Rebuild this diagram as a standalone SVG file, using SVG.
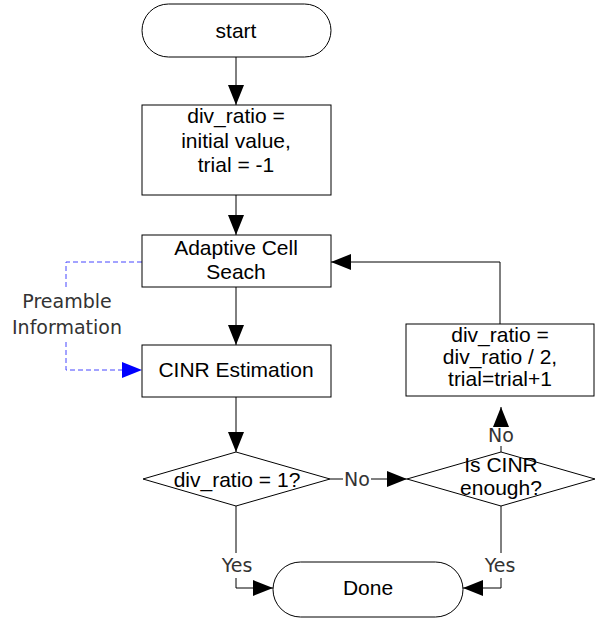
<svg xmlns="http://www.w3.org/2000/svg" width="612" height="621" viewBox="0 0 612 621">
<style>
.shape{fill:#fff;stroke:#000;stroke-width:1}
.t{font-family:"Liberation Sans",Arial,sans-serif;font-size:21px;fill:#000;text-anchor:middle}
.lbl{font-family:"DejaVu Sans",sans-serif;font-size:19px;fill:#333;text-anchor:middle}
.c{fill:none;stroke:#000;stroke-width:1}
.d{fill:none;stroke:#4646ff;stroke-width:1;stroke-dasharray:5,3}
</style>
<defs>
<marker id="ah" markerUnits="userSpaceOnUse" viewBox="0 0 20 16" refX="20" refY="8" markerWidth="20" markerHeight="16" orient="auto"><path d="M0,0 L20,8 L0,16 z" fill="#000"/></marker>
<marker id="bh" markerUnits="userSpaceOnUse" viewBox="0 0 20 16" refX="20" refY="8" markerWidth="20" markerHeight="16" orient="auto"><path d="M0,0 L20,8 L0,16 z" fill="#0000ff"/></marker>
</defs>
<g id="connectors">
<line class="c" x1="236" y1="57" x2="236" y2="105" marker-end="url(#ah)"/>
<line class="c" x1="236" y1="195" x2="236" y2="235" marker-end="url(#ah)"/>
<line class="c" x1="236" y1="287" x2="236" y2="345" marker-end="url(#ah)"/>
<line class="c" x1="236" y1="397" x2="236" y2="452" marker-end="url(#ah)"/>
<line class="c" x1="330" y1="479" x2="343" y2="479"/>
<text class="lbl" x="357" y="486">No</text>
<line class="c" x1="371" y1="479" x2="407" y2="479" marker-end="url(#ah)"/>
<line class="c" x1="501" y1="452" x2="501" y2="446"/>
<text class="lbl" x="501" y="442">No</text>
<line class="c" x1="501" y1="424" x2="501" y2="407" marker-end="url(#ah)"/>
<polyline class="c" points="500,324 500,262 331,262" marker-end="url(#ah)"/>
<line class="c" x1="236" y1="506" x2="236" y2="553"/>
<text class="lbl" x="237" y="572">Yes</text>
<polyline class="c" points="236,578 236,588 273,588" marker-end="url(#ah)"/>
<line class="c" x1="501" y1="506" x2="501" y2="553"/>
<text class="lbl" x="500" y="572">Yes</text>
<polyline class="c" points="501,578 501,588 463,588" marker-end="url(#ah)"/>
<polyline class="d" points="142,262 66,262 66,290"/>
<text class="lbl" x="67" y="308">Preamble</text>
<text class="lbl" x="67" y="334">Information</text>
<polyline class="d" points="66,342 66,370 142,370" marker-end="url(#bh)"/>
</g>
<g id="start">
<rect class="shape" x="142" y="4" width="189" height="53" rx="26.5"/>
<text class="t" x="236" y="38">start</text>
</g>
<g id="init">
<rect class="shape" x="142" y="105" width="189" height="90"/>
<text class="t" x="236" y="123">div_ratio =</text>
<text class="t" x="236" y="148">initial value,</text>
<text class="t" x="236" y="172">trial = -1</text>
</g>
<g id="search">
<rect class="shape" x="142" y="235" width="189" height="52"/>
<text class="t" x="236" y="255">Adaptive Cell</text>
<text class="t" x="236" y="279">Seach</text>
</g>
<g id="cinr">
<rect class="shape" x="142" y="345" width="189" height="52"/>
<text class="t" x="236" y="377">CINR Estimation</text>
</g>
<g id="dec1">
<polygon class="shape" points="143,479 236,452 330,479 236,506"/>
<text class="t" x="237" y="487">div_ratio = 1?</text>
</g>
<g id="dec2">
<polygon class="shape" points="407,479 501,452 595,479 501,506"/>
<text class="t" x="501" y="472">Is CINR</text>
<text class="t" x="501" y="495">enough?</text>
</g>
<g id="update">
<rect class="shape" x="406" y="324" width="188" height="72"/>
<text class="t" x="500" y="342">div_ratio =</text>
<text class="t" x="500" y="364">div_ratio / 2,</text>
<text class="t" x="500" y="386">trial=trial+1</text>
</g>
<g id="done">
<rect class="shape" x="273" y="562" width="190" height="55" rx="27.5"/>
<text class="t" x="368" y="595">Done</text>
</g>
</svg>
